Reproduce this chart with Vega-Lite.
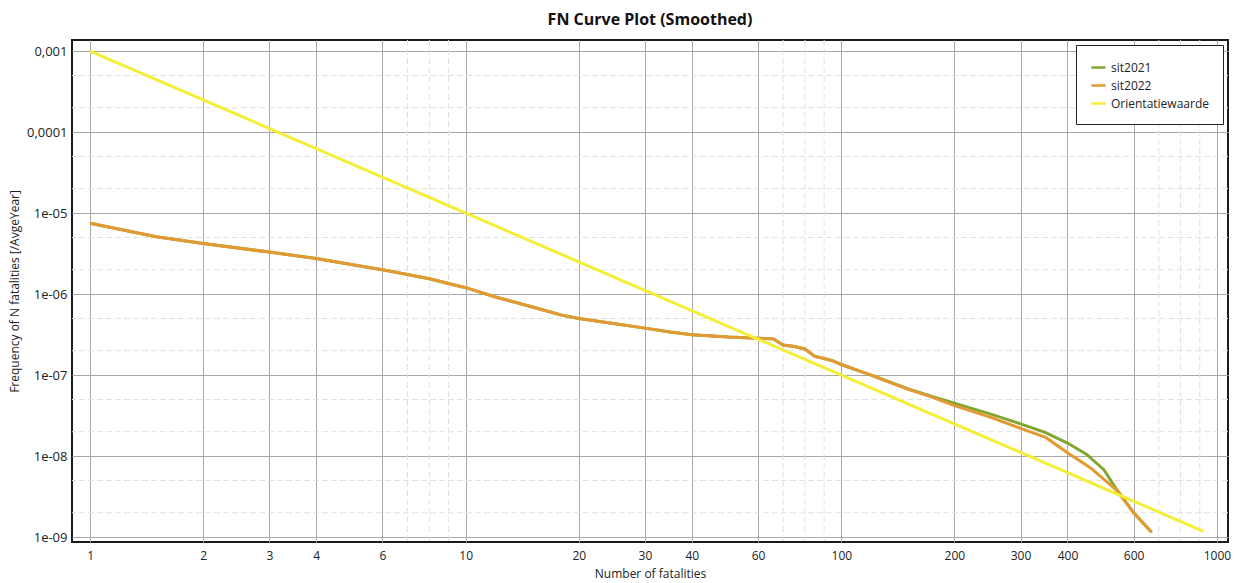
{
  "$schema": "https://vega.github.io/schema/vega-lite/v6.json",
  "width": 1156,
  "height": 502,
  "autosize": {"type": "none"},
  "padding": {"left": 72, "top": 40, "right": 20, "bottom": 41},
  "background": "white",
  "config": {
    "font": "Open Sans",
    "view": {"stroke": "#1a1a1a", "strokeWidth": 2},
    "axisX": {
      "titleFontSize": 12, "titleFontWeight": "normal", "titleColor": "#222", "titlePadding": 7,
      "labelFontSize": 12, "labelColor": "#222", "labelPadding": 8,
      "ticks": false, "domain": false,
      "grid": true, "gridColor": "#a8a8a8", "gridWidth": 1
    },
    "axisY": {
      "titleFontSize": 12, "titleFontWeight": "normal", "titleColor": "#222", "titlePadding": 5,
      "labelFontSize": 13, "labelColor": "#222", "labelPadding": 5,
      "ticks": false, "domain": false,
      "grid": true, "gridColor": "#a8a8a8", "gridWidth": 1
    }
  },
  "title": {
    "text": "FN Curve Plot (Smoothed)",
    "fontSize": 16,
    "fontWeight": "bold",
    "font": "Open Sans",
    "color": "#111",
    "offset": 12,
    "anchor": "middle"
  },
  "datasets": {
    "minorx": [
      {"v": 7}, {"v": 8}, {"v": 9}, {"v": 70}, {"v": 80}, {"v": 90}, {"v": 700}, {"v": 800}, {"v": 900}
    ],
    "minory": [
      {"v": 5e-4}, {"v": 2e-4}, {"v": 5e-5}, {"v": 2e-5}, {"v": 5e-6}, {"v": 2e-6},
      {"v": 5e-7}, {"v": 2e-7}, {"v": 5e-8}, {"v": 2e-8}, {"v": 5e-9}, {"v": 2e-9}
    ],
    "curves": [
      {"series": "sit2021", "N": 1, "freq": 7.5e-6},
      {"series": "sit2021", "N": 1.5, "freq": 5.1e-6},
      {"series": "sit2021", "N": 2, "freq": 4.2e-6},
      {"series": "sit2021", "N": 3, "freq": 3.3e-6},
      {"series": "sit2021", "N": 4, "freq": 2.75e-6},
      {"series": "sit2021", "N": 5, "freq": 2.3e-6},
      {"series": "sit2021", "N": 6, "freq": 2.0e-6},
      {"series": "sit2021", "N": 7, "freq": 1.75e-6},
      {"series": "sit2021", "N": 8, "freq": 1.55e-6},
      {"series": "sit2021", "N": 10, "freq": 1.2e-6},
      {"series": "sit2021", "N": 12, "freq": 9.2e-7},
      {"series": "sit2021", "N": 14, "freq": 7.6e-7},
      {"series": "sit2021", "N": 16, "freq": 6.4e-7},
      {"series": "sit2021", "N": 18, "freq": 5.5e-7},
      {"series": "sit2021", "N": 20, "freq": 5.0e-7},
      {"series": "sit2021", "N": 25, "freq": 4.3e-7},
      {"series": "sit2021", "N": 30, "freq": 3.8e-7},
      {"series": "sit2021", "N": 35, "freq": 3.4e-7},
      {"series": "sit2021", "N": 40, "freq": 3.15e-7},
      {"series": "sit2021", "N": 50, "freq": 2.95e-7},
      {"series": "sit2021", "N": 60, "freq": 2.85e-7},
      {"series": "sit2021", "N": 66, "freq": 2.8e-7},
      {"series": "sit2021", "N": 70, "freq": 2.35e-7},
      {"series": "sit2021", "N": 75, "freq": 2.25e-7},
      {"series": "sit2021", "N": 80, "freq": 2.1e-7},
      {"series": "sit2021", "N": 85, "freq": 1.7e-7},
      {"series": "sit2021", "N": 90, "freq": 1.6e-7},
      {"series": "sit2021", "N": 95, "freq": 1.5e-7},
      {"series": "sit2021", "N": 100, "freq": 1.35e-7},
      {"series": "sit2021", "N": 110, "freq": 1.15e-7},
      {"series": "sit2021", "N": 120, "freq": 1.0e-7},
      {"series": "sit2021", "N": 130, "freq": 8.7e-8},
      {"series": "sit2021", "N": 150, "freq": 6.8e-8},
      {"series": "sit2021", "N": 175, "freq": 5.4e-8},
      {"series": "sit2021", "N": 200, "freq": 4.5e-8},
      {"series": "sit2021", "N": 250, "freq": 3.3e-8},
      {"series": "sit2021", "N": 300, "freq": 2.5e-8},
      {"series": "sit2021", "N": 350, "freq": 1.95e-8},
      {"series": "sit2021", "N": 400, "freq": 1.45e-8},
      {"series": "sit2021", "N": 450, "freq": 1.05e-8},
      {"series": "sit2021", "N": 500, "freq": 6.8e-9},
      {"series": "sit2021", "N": 540, "freq": 3.9e-9},
      {"series": "sit2021", "N": 600, "freq": 2.0e-9},
      {"series": "sit2021", "N": 670, "freq": 1.15e-9},
      {"series": "sit2022", "N": 1, "freq": 7.5e-6},
      {"series": "sit2022", "N": 1.5, "freq": 5.1e-6},
      {"series": "sit2022", "N": 2, "freq": 4.2e-6},
      {"series": "sit2022", "N": 3, "freq": 3.3e-6},
      {"series": "sit2022", "N": 4, "freq": 2.75e-6},
      {"series": "sit2022", "N": 5, "freq": 2.3e-6},
      {"series": "sit2022", "N": 6, "freq": 2.0e-6},
      {"series": "sit2022", "N": 7, "freq": 1.75e-6},
      {"series": "sit2022", "N": 8, "freq": 1.55e-6},
      {"series": "sit2022", "N": 10, "freq": 1.2e-6},
      {"series": "sit2022", "N": 12, "freq": 9.2e-7},
      {"series": "sit2022", "N": 14, "freq": 7.6e-7},
      {"series": "sit2022", "N": 16, "freq": 6.4e-7},
      {"series": "sit2022", "N": 18, "freq": 5.5e-7},
      {"series": "sit2022", "N": 20, "freq": 5.0e-7},
      {"series": "sit2022", "N": 25, "freq": 4.3e-7},
      {"series": "sit2022", "N": 30, "freq": 3.8e-7},
      {"series": "sit2022", "N": 35, "freq": 3.4e-7},
      {"series": "sit2022", "N": 40, "freq": 3.15e-7},
      {"series": "sit2022", "N": 50, "freq": 2.95e-7},
      {"series": "sit2022", "N": 60, "freq": 2.85e-7},
      {"series": "sit2022", "N": 66, "freq": 2.8e-7},
      {"series": "sit2022", "N": 70, "freq": 2.35e-7},
      {"series": "sit2022", "N": 75, "freq": 2.25e-7},
      {"series": "sit2022", "N": 80, "freq": 2.1e-7},
      {"series": "sit2022", "N": 85, "freq": 1.7e-7},
      {"series": "sit2022", "N": 90, "freq": 1.6e-7},
      {"series": "sit2022", "N": 95, "freq": 1.5e-7},
      {"series": "sit2022", "N": 100, "freq": 1.35e-7},
      {"series": "sit2022", "N": 110, "freq": 1.15e-7},
      {"series": "sit2022", "N": 120, "freq": 1.0e-7},
      {"series": "sit2022", "N": 130, "freq": 8.7e-8},
      {"series": "sit2022", "N": 150, "freq": 6.7e-8},
      {"series": "sit2022", "N": 175, "freq": 5.3e-8},
      {"series": "sit2022", "N": 200, "freq": 4.2e-8},
      {"series": "sit2022", "N": 250, "freq": 3.0e-8},
      {"series": "sit2022", "N": 300, "freq": 2.2e-8},
      {"series": "sit2022", "N": 350, "freq": 1.7e-8},
      {"series": "sit2022", "N": 400, "freq": 1.1e-8},
      {"series": "sit2022", "N": 460, "freq": 7.2e-9},
      {"series": "sit2022", "N": 540, "freq": 3.8e-9},
      {"series": "sit2022", "N": 600, "freq": 2.0e-9},
      {"series": "sit2022", "N": 670, "freq": 1.15e-9},
      {"series": "Orientatiewaarde", "N": 1, "freq": 1e-3},
      {"series": "Orientatiewaarde", "N": 920, "freq": 1.18e-9}
    ]
  },
  "layer": [
    {
      "data": {"name": "minorx"},
      "mark": {"type": "rule", "color": "#e2e2e2", "strokeWidth": 1, "strokeDash": [6, 3]},
      "encoding": {
        "x": {
          "field": "v", "type": "quantitative",
          "scale": {"type": "log", "domain": [0.895, 1070], "nice": false},
          "axis": {
            "title": "Number of fatalities",
            "values": [1, 2, 3, 4, 6, 10, 20, 30, 40, 60, 100, 200, 300, 400, 600, 1000],
            "labelExpr": "format(datum.value, 'd')"
          }
        }
      }
    },
    {
      "data": {"name": "minory"},
      "mark": {"type": "rule", "color": "#e2e2e2", "strokeWidth": 1, "strokeDash": [6, 3]},
      "encoding": {
        "y": {
          "field": "v", "type": "quantitative",
          "scale": {"type": "log", "domain": [8.7e-10, 1.37e-3], "nice": false},
          "axis": {
            "title": "Frequency of N fatalities [/AvgeYear]",
            "values": [1e-3, 1e-4, 1e-5, 1e-6, 1e-7, 1e-8, 1e-9],
            "labelExpr": "datum.value > 5e-4 ? '0,001' : datum.value > 5e-5 ? '0,0001' : datum.value > 5e-6 ? '1e-05' : datum.value > 5e-7 ? '1e-06' : datum.value > 5e-8 ? '1e-07' : datum.value > 5e-9 ? '1e-08' : '1e-09'"
          }
        }
      }
    },
    {
      "data": {"name": "curves"},
      "mark": {"type": "line", "strokeWidth": 3, "clip": true},
      "encoding": {
        "x": {
          "field": "N", "type": "quantitative",
          "scale": {"type": "log", "domain": [0.895, 1070], "nice": false},
          "axis": {
            "title": "Number of fatalities",
            "values": [1, 2, 3, 4, 6, 10, 20, 30, 40, 60, 100, 200, 300, 400, 600, 1000],
            "labelExpr": "format(datum.value, 'd')"
          }
        },
        "y": {
          "field": "freq", "type": "quantitative",
          "scale": {"type": "log", "domain": [8.7e-10, 1.37e-3], "nice": false},
          "axis": {
            "title": "Frequency of N fatalities [/AvgeYear]",
            "values": [1e-3, 1e-4, 1e-5, 1e-6, 1e-7, 1e-8, 1e-9],
            "labelExpr": "datum.value > 5e-4 ? '0,001' : datum.value > 5e-5 ? '0,0001' : datum.value > 5e-6 ? '1e-05' : datum.value > 5e-7 ? '1e-06' : datum.value > 5e-8 ? '1e-07' : datum.value > 5e-9 ? '1e-08' : '1e-09'"
          }
        },
        "color": {
          "field": "series", "type": "nominal",
          "scale": {"domain": ["sit2021", "sit2022", "Orientatiewaarde"], "range": ["#82a632", "#e39a32", "#f4ee38"]},
          "sort": ["sit2021", "sit2022", "Orientatiewaarde"],
          "legend": {
            "title": null,
            "orient": "top-right",
            "offset": 5,
            "padding": 14,
            "strokeColor": "#222",
            "fillColor": "white",
            "symbolType": "stroke",
            "symbolStrokeWidth": 2.5,
            "symbolSize": 200,
            "labelFontSize": 12,
            "labelColor": "#222",
            "rowPadding": 3,
            "labelLimit": 200
          }
        }
      }
    }
  ]
}
